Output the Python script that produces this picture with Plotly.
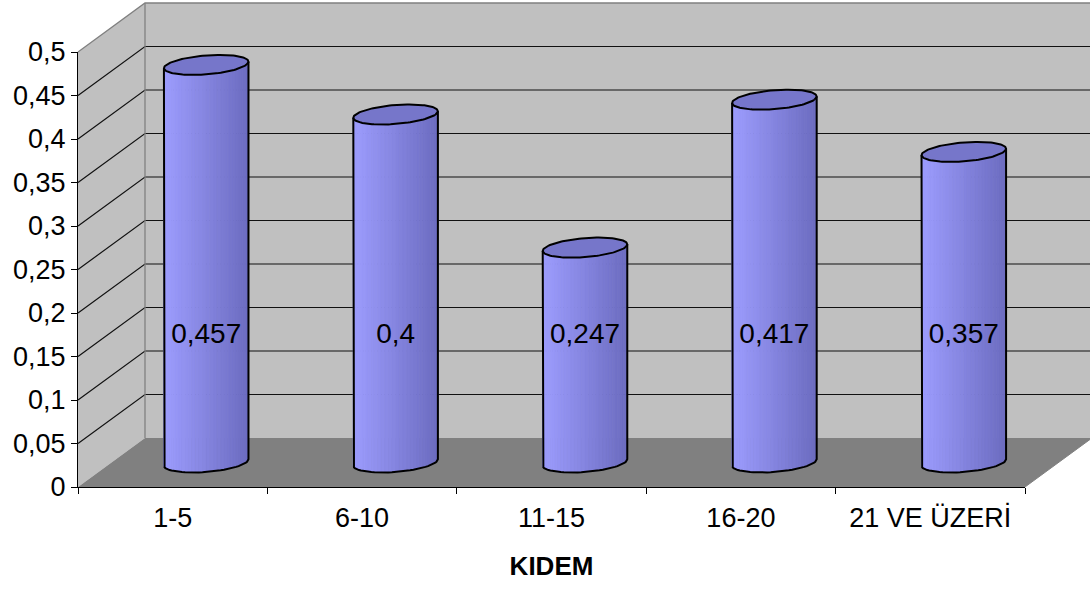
import numpy as np
import plotly.graph_objects as go

# ---- data ----
categories = ["1-5", "6-10", "11-15", "16-20", "21 VE ÜZERİ"]
values = [0.457, 0.4, 0.247, 0.417, 0.357]
value_labels = ["0,457", "0,4", "0,247", "0,417", "0,357"]
y_ticks = [0, 0.05, 0.1, 0.15, 0.2, 0.25, 0.3, 0.35, 0.4, 0.45, 0.5]
y_tick_text = ["0", "0,05", "0,1", "0,15", "0,2", "0,25", "0,3", "0,35", "0,4", "0,45", "0,5"]
axis_title = "KIDEM"

# ---- geometry / style ----
W, H = 1090, 589
ML, MR, MT, MB = 68, 0, 0, 92
PLOT_W, PLOT_H = W - ML - MR, H - MT - MB
AX_LEFT_PX = 78          # front-left corner of the floor
AX_RIGHT_PX = 1025       # front-right corner of the floor
AX_ZERO_PX = 487         # baseline (page y)
AX_TOP_PX = 52           # 0.5 on the front plane (page y)
CAT_PX = (AX_RIGHT_PX - AX_LEFT_PX) / len(categories)
VAL_PX = (AX_ZERO_PX - AX_TOP_PX) / 0.5

DEPTH_X = 67 / CAT_PX     # depth offset in category units
DEPTH_Y = 49 / VAL_PX     # depth offset in value units
CYL_RX = 40 / CAT_PX
CYL_SX = 13.7 / CAT_PX
CYL_RY = 10 / VAL_PX
LABEL_Y = 0.173

FONT = "Liberation Sans, Arial, sans-serif"
WALL = "#C0C0C0"
FLOOR = "#808080"
EDGE = "#808080"

x_lo = -0.5 - (AX_LEFT_PX - ML) / CAT_PX
x_hi = x_lo + PLOT_W / CAT_PX
y_lo = -(MT + PLOT_H - AX_ZERO_PX) / VAL_PX
y_hi = y_lo + PLOT_H / VAL_PX

fig = go.Figure()


def poly(xs, ys, fill, line_color=None, width=0):
    fig.add_trace(go.Scatter(
        x=list(xs), y=list(ys), mode="lines", fill="toself", fillcolor=fill,
        line=dict(color=line_color or fill, width=width),
        hoverinfo="skip", showlegend=False))


def seg(xs, ys, color, width=1):
    fig.add_trace(go.Scatter(
        x=list(xs), y=list(ys), mode="lines",
        line=dict(color=color, width=width),
        hoverinfo="skip", showlegend=False))


n = len(categories)
fx0, fx1 = -0.5, n - 0.5
bx0, bx1 = fx0 + DEPTH_X, fx1 + DEPTH_X
top = y_ticks[-1]

# back wall, side wall, floor
poly([bx0, bx1, bx1, bx0, bx0], [DEPTH_Y, DEPTH_Y, top + DEPTH_Y, top + DEPTH_Y, DEPTH_Y], WALL)
poly([fx0, bx0, bx0, fx0, fx0], [0, DEPTH_Y, top + DEPTH_Y, top, 0], WALL)
poly([fx0, fx1, bx1, bx0, fx0], [0, 0, DEPTH_Y, DEPTH_Y, 0], FLOOR)

# gridlines on the walls
for v in y_ticks[1:-1]:
    seg([fx0, bx0, bx1], [v, v + DEPTH_Y, v + DEPTH_Y], "#111111", 1.2)

# wall edges
seg([fx0, bx0, bx1], [top, top + DEPTH_Y, top + DEPTH_Y], EDGE, 1.3)
seg([bx0, bx0], [DEPTH_Y, top + DEPTH_Y], EDGE, 1.3)
seg([fx1, bx1], [0, DEPTH_Y], EDGE, 1)

# cylinders
alpha = np.arctan2(CYL_SX, CYL_RX)
c_left = np.array([157, 157, 255])
c_right = np.array([108, 108, 192])


def ell(xc, level, t):
    return xc + CYL_RX * np.cos(t) + CYL_SX * np.sin(t), level + CYL_RY * np.sin(t)


N_STRIPS = 36
for i, v in enumerate(values):
    xc = i + DEPTH_X / 2
    base = DEPTH_Y / 2
    lvl = base + v
    ts = np.linspace(np.pi + alpha, 2 * np.pi + alpha, N_STRIPS + 1)
    bx, by = ell(xc, base, ts)
    tx, ty = ell(xc, lvl, ts)
    xmin, xmax = bx[0], bx[-1]
    for k in range(N_STRIPS):
        f = ((bx[k] + bx[k + 1]) / 2 - xmin) / (xmax - xmin)
        c = c_left + (c_right - c_left) * f
        col = "rgb(%d,%d,%d)" % tuple(np.round(c))
        poly([bx[k], bx[k + 1], tx[k + 1], tx[k], bx[k]],
             [by[k], by[k + 1], ty[k + 1], ty[k], by[k]], col, col, 0.8)
    # top face
    tt = np.linspace(0, 2 * np.pi, 121)
    ex, ey = ell(xc, lvl, tt)
    poly(ex, ey, "#7676CA", "#000000", 2)
    # silhouette
    ox = np.concatenate([[tx[0]], bx, [tx[-1]]])
    oy = np.concatenate([[ty[0]], by, [ty[-1]]])
    seg(ox, oy, "#000000", 2)

# value labels
fig.add_trace(go.Scatter(
    x=[i + DEPTH_X / 2 for i in range(n)], y=[LABEL_Y] * n, mode="text",
    text=value_labels, textfont=dict(family=FONT, size=28, color="#000000"),
    hoverinfo="skip", showlegend=False, cliponaxis=False))

# category axis (front)
fig.add_trace(go.Scatter(
    x=categories, y=values, xaxis="x2", yaxis="y2", mode="markers",
    marker=dict(opacity=0), hoverinfo="skip", showlegend=False))

fig.update_layout(
    width=W, height=H, autosize=False, showlegend=False,
    margin=dict(l=ML, r=MR, t=MT, b=MB, pad=0, autoexpand=False),
    paper_bgcolor="#FFFFFF", plot_bgcolor="rgba(0,0,0,0)",
    xaxis=dict(range=[x_lo, x_hi], visible=False, fixedrange=True, automargin=False),
    yaxis=dict(range=[y_lo, y_hi], visible=False, fixedrange=True, automargin=False),
    xaxis2=dict(
        type="category", categoryorder="array", categoryarray=categories,
        range=[-0.5, n - 0.5], anchor="y2", automargin=False,
        domain=[(AX_LEFT_PX - ML) / PLOT_W, (AX_RIGHT_PX - ML) / PLOT_W],
        showline=True, linecolor="#000000", linewidth=1.3,
        ticks="outside", tickson="boundaries", ticklen=6, tickcolor="#000000",
        showgrid=False, zeroline=False, ticklabelstandoff=6,
        tickfont=dict(family=FONT, size=27, color="#000000"),
        title=dict(text="<b>" + axis_title + "</b>", standoff=25,
                   font=dict(family=FONT, size=26, color="#000000")),
        fixedrange=True),
    yaxis2=dict(
        range=[0, top], anchor="x2", automargin=False,
        domain=[(MT + PLOT_H - AX_ZERO_PX) / PLOT_H, (MT + PLOT_H - AX_TOP_PX) / PLOT_H],
        tickvals=y_ticks, ticktext=y_tick_text,
        showline=True, linecolor="#000000", linewidth=1.3,
        ticks="outside", ticklen=6, tickcolor="#000000",
        showgrid=False, zeroline=False,
        tickfont=dict(family=FONT, size=27, color="#000000"),
        fixedrange=True),
)

fig.write_html("out.html")
